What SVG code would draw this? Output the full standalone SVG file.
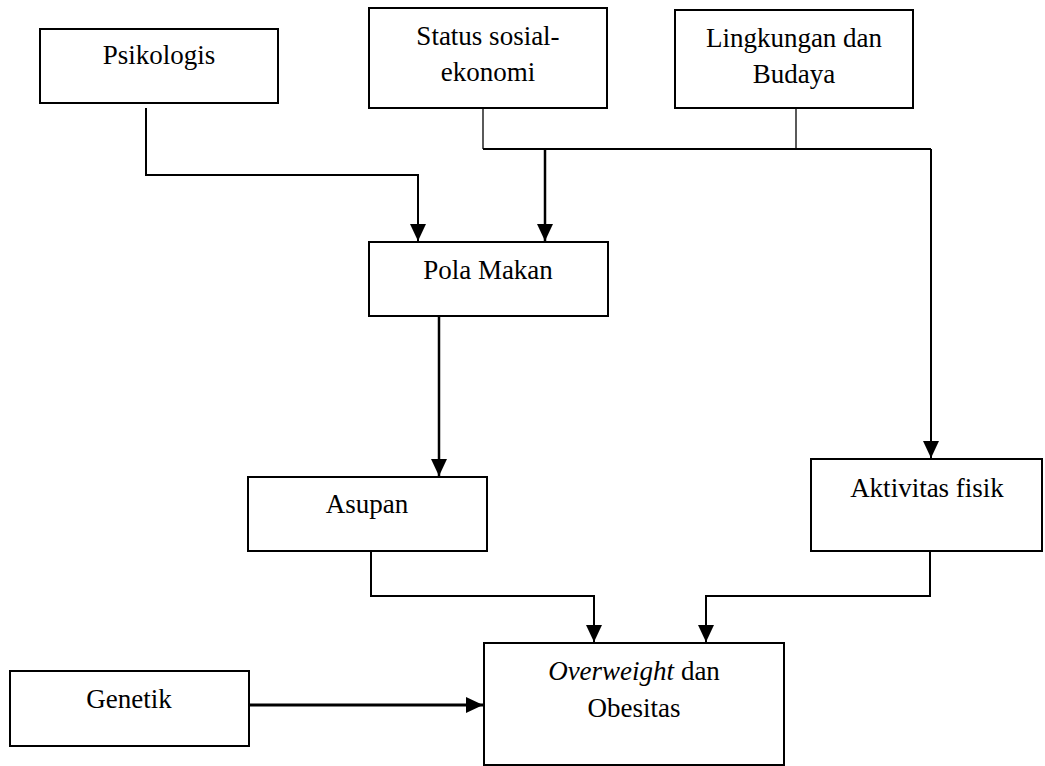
<svg xmlns="http://www.w3.org/2000/svg" width="1045" height="766" viewBox="0 0 1045 766">
<style>
.box{fill:#fff;stroke:#000;stroke-width:2}
.c{fill:none;stroke:#000;stroke-width:2}
.thin{fill:none;stroke:#000;stroke-width:1.3}
.a{fill:none;stroke:#000;stroke-width:2.5}
</style>
<defs>
<marker id="ah" markerUnits="userSpaceOnUse" markerWidth="17" markerHeight="16" refX="17" refY="8" orient="auto">
<path d="M0,0 L17,8 L0,16 z" fill="#000"/>
</marker>
</defs>
<rect width="1045" height="766" fill="#fff"/>
<g id="connectors">
<polyline class="c" points="146,108 146,175 418,175 418,241" marker-end="url(#ah)"/>
<line class="thin" x1="483" y1="108" x2="483" y2="149"/>
<line class="thin" x1="796" y1="108" x2="796" y2="149"/>
<line class="c" x1="483" y1="149" x2="931" y2="149"/>
<line class="a" x1="545" y1="149" x2="545" y2="241" marker-end="url(#ah)"/>
<line class="c" x1="931" y1="149" x2="931" y2="458" marker-end="url(#ah)"/>
<line class="a" x1="439" y1="316" x2="439" y2="476" marker-end="url(#ah)"/>
<polyline class="c" points="371,551 371,596 594,596 594,642" marker-end="url(#ah)"/>
<polyline class="c" points="930,549 930,596 706,596 706,642" marker-end="url(#ah)"/>
<line x1="249" y1="705" x2="483" y2="705" stroke="#000" stroke-width="3" marker-end="url(#ah)"/>
</g>
<g font-family="Liberation Serif, Times New Roman, Times, Tinos, DejaVu Serif, Noto Serif, serif" font-size="27" text-anchor="middle" fill="#000">
<g id="psikologis">
<rect class="box" x="40" y="29" width="238" height="74"/>
<text x="159" y="64">Psikologis</text>
</g>
<g id="status">
<rect class="box" x="369" y="8" width="238" height="100"/>
<text x="488" y="45">Status sosial-</text>
<text x="488" y="81">ekonomi</text>
</g>
<g id="lingkungan">
<rect class="box" x="675" y="10" width="238" height="98"/>
<text x="794" y="47">Lingkungan dan</text>
<text x="794" y="83">Budaya</text>
</g>
<g id="polamakan">
<rect class="box" x="369" y="242" width="239" height="74"/>
<text x="488" y="279">Pola Makan</text>
</g>
<g id="asupan">
<rect class="box" x="248" y="477" width="239" height="74"/>
<text x="367" y="513">Asupan</text>
</g>
<g id="aktivitas">
<rect class="box" x="811" y="459" width="231" height="92"/>
<text x="927" y="497">Aktivitas fisik</text>
</g>
<g id="genetik">
<rect class="box" x="10" y="671" width="239" height="75"/>
<text x="129" y="708">Genetik</text>
</g>
<g id="overweight">
<rect class="box" x="484" y="643" width="300" height="122"/>
<text x="634" y="680"><tspan font-style="italic">Overweight</tspan> dan</text>
<text x="634" y="717">Obesitas</text>
</g>
</g>
</svg>
